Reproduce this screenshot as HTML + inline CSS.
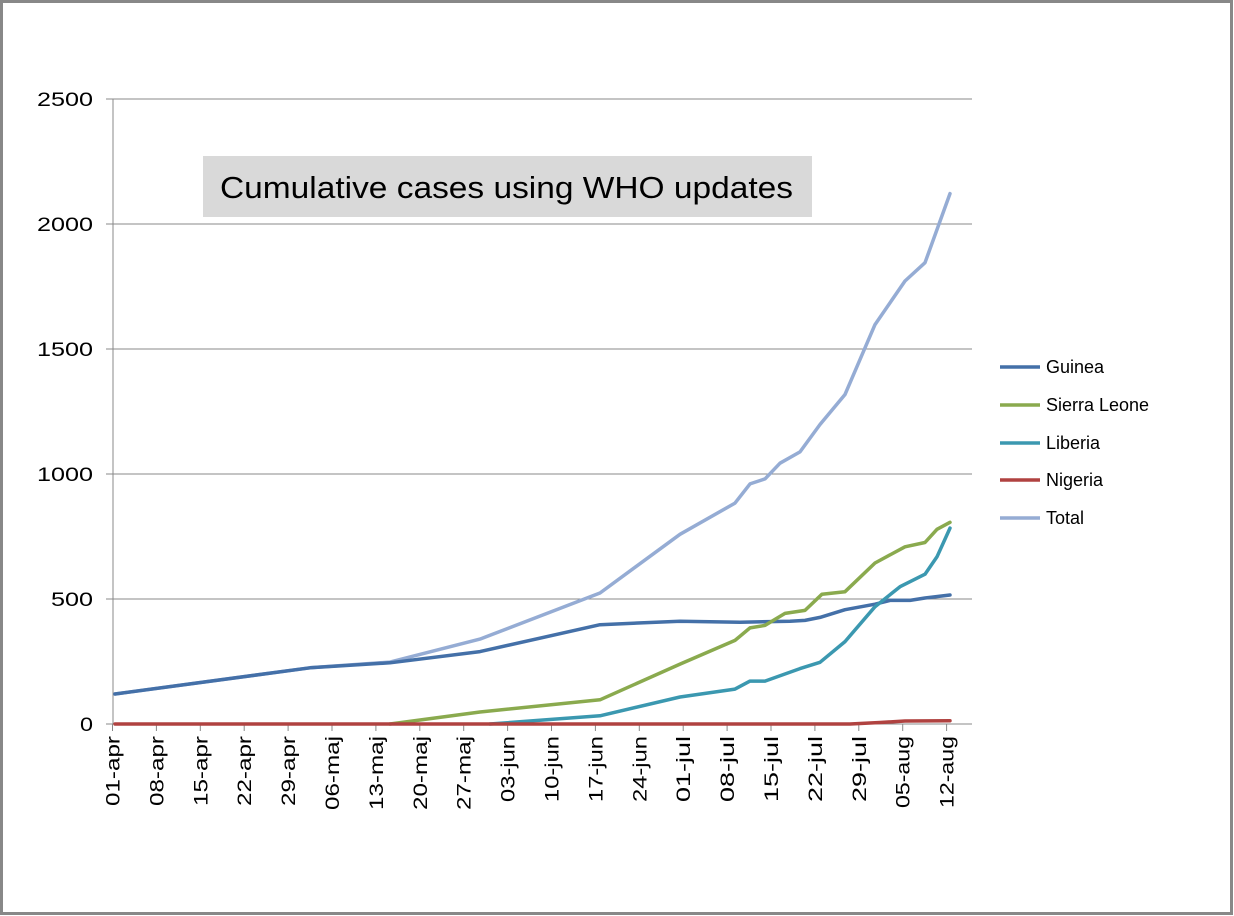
<!DOCTYPE html>
<html><head><style>body{margin:0;background:#fff}svg{display:block}text{font-family:"Liberation Sans",sans-serif}</style></head>
<body>
<svg width="1234" height="916" xmlns="http://www.w3.org/2000/svg">
<rect x="1.5" y="1.5" width="1230" height="912" fill="#fff" stroke="#888" stroke-width="3"/>
<g stroke="#888" stroke-width="1">
<line x1="113" y1="99" x2="972" y2="99"/>
<line x1="113" y1="224" x2="972" y2="224"/>
<line x1="113" y1="349" x2="972" y2="349"/>
<line x1="113" y1="474" x2="972" y2="474"/>
<line x1="113" y1="599" x2="972" y2="599"/>
<line x1="113" y1="724" x2="972" y2="724"/>
<line x1="113" y1="99" x2="113" y2="724"/>
<line x1="106" y1="99" x2="113" y2="99"/><line x1="106" y1="224" x2="113" y2="224"/><line x1="106" y1="349" x2="113" y2="349"/><line x1="106" y1="474" x2="113" y2="474"/><line x1="106" y1="599" x2="113" y2="599"/><line x1="106" y1="724" x2="113" y2="724"/>
</g>
<g font-size="19" text-anchor="end" fill="#000" lengthAdjust="spacingAndGlyphs">
<text x="93" y="106" textLength="56" lengthAdjust="spacingAndGlyphs">2500</text><text x="93" y="231" textLength="56" lengthAdjust="spacingAndGlyphs">2000</text><text x="93" y="356" textLength="56" lengthAdjust="spacingAndGlyphs">1500</text><text x="93" y="481" textLength="56" lengthAdjust="spacingAndGlyphs">1000</text><text x="93" y="606" textLength="42" lengthAdjust="spacingAndGlyphs">500</text><text x="93" y="731" textLength="13" lengthAdjust="spacingAndGlyphs">0</text>
</g>
<g stroke="#888" id="ticks"></g>
<g font-size="19" fill="#000" id="xl"></g>
<rect x="203" y="156" width="609" height="61" fill="#d9d9d9"/>
<text x="220" y="198" font-size="31" fill="#000" textLength="573" lengthAdjust="spacingAndGlyphs">Cumulative cases using WHO updates</text>
<g fill="none" stroke-width="3.5" stroke-linejoin="round" stroke-linecap="round" id="series"></g>
<g font-size="18" fill="#000">
<line x1="1000" y1="367" x2="1040" y2="367" stroke="#4470A8" stroke-width="3.5"/><text x="1046" y="373">Guinea</text>
<line x1="1000" y1="405" x2="1040" y2="405" stroke="#8AAA4E" stroke-width="3.5"/><text x="1046" y="411" textLength="103" lengthAdjust="spacingAndGlyphs">Sierra Leone</text>
<line x1="1000" y1="443" x2="1040" y2="443" stroke="#3B98B0" stroke-width="3.5"/><text x="1046" y="449">Liberia</text>
<line x1="1000" y1="480" x2="1040" y2="480" stroke="#B04240" stroke-width="3.5"/><text x="1046" y="486">Nigeria</text>
<line x1="1000" y1="518" x2="1040" y2="518" stroke="#95ACD4" stroke-width="3.5"/><text x="1046" y="524">Total</text>
</g>
<script>
var ns="http://www.w3.org/2000/svg";
var labels=["01-apr","08-apr","15-apr","22-apr","29-apr","06-maj","13-maj","20-maj","27-maj","03-jun","10-jun","17-jun","24-jun","01-jul","08-jul","15-jul","22-jul","29-jul","05-aug","12-aug"];
var T=document.getElementById("ticks"),X=document.getElementById("xl");
labels.forEach(function(l,i){var x=112.5+i*43.9;
var t=document.createElementNS(ns,"line");t.setAttribute("x1",x);t.setAttribute("x2",x);t.setAttribute("y1",724);t.setAttribute("y2",731);T.appendChild(t);
var tx=document.createElementNS(ns,"text");tx.setAttribute("transform","translate("+(x+7)+",736) rotate(-90)");tx.setAttribute("text-anchor","end");
var len=l.indexOf("maj")>0?74:(l.indexOf("jul")>0||l.indexOf("jun")>0?66:(l.indexOf("aug")>0?72:70));
tx.setAttribute("textLength",len);tx.setAttribute("lengthAdjust","spacingAndGlyphs");tx.textContent=l;X.appendChild(tx);});
function y(v){return 724-v*0.2496;}
var S={
"#95ACD4":[[115,120],[310,225],[390,248],[480,340],[600,525],[680,760],[735,885],[750,962],[765,982],[780,1045],[800,1090],[820,1200],[845,1320],[875,1600],[905,1775],[925,1848],[950,2125]],
"#4470A8":[[115,120],[310,225],[390,245],[480,290],[600,398],[680,412],[740,408],[790,412],[805,415],[820,427],[845,458],[875,480],[890,495],[910,495],[925,505],[950,517]],
"#8AAA4E":[[390,0],[480,48],[600,97],[680,240],[735,335],[750,385],[765,395],[785,443],[805,455],[822,520],[845,530],[875,645],[905,710],[925,727],[937,780],[950,808]],
"#3B98B0":[[490,0],[600,33],[680,108],[735,140],[750,172],[765,172],[800,222],[820,247],[845,330],[875,470],[900,550],[925,600],[937,670],[950,785]],
"#B04240":[[115,0],[850,0],[880,6],[905,12],[950,13]]};
var G=document.getElementById("series");
for(var c in S){var p=document.createElementNS(ns,"polyline");p.setAttribute("stroke",c);p.setAttribute("points",S[c].map(function(q){return q[0]+","+y(q[1]).toFixed(1)}).join(" "));G.appendChild(p);}
</script>
</svg>
</body></html>
